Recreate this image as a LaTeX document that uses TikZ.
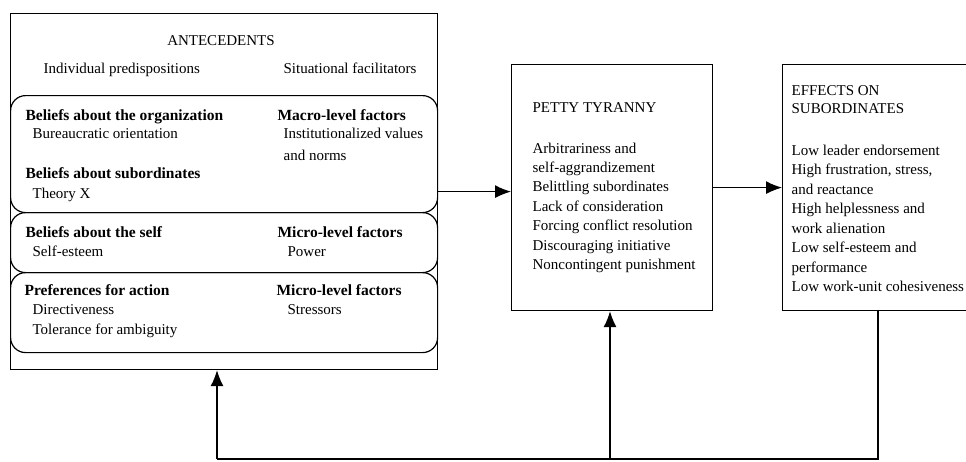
\documentclass[tikz,border=0pt]{standalone}
\usepackage{fontspec}
\setmainfont{Liberation Serif}
\usetikzlibrary{arrows.meta}

\begin{document}
\begin{tikzpicture}[x=1pt, y=-1pt, line width=1.2pt,
    txt/.style={anchor=base west, inner sep=0pt, font=\fontsize{15}{18}\selectfont},
    hd/.style={txt, font=\fontsize{15.5}{18}\selectfont\bfseries},
    box/.style={draw, anchor=north west, inner sep=0pt},
    grp/.style={draw, rounded corners=15pt, anchor=north west, inner sep=0pt, minimum width=427pt},
    arr/.style={-{Latex[length=16pt,width=13pt]}}]
    \clip (0,0) rectangle (966,461);

    % boxes
    \node[box, minimum width=427pt, minimum height=356pt] (ante) at (10,13) {};
    \node[grp, minimum height=117pt] (grp1) at (10,95) {};
    \node[grp, minimum height=60pt] (grp2) at (10,212) {};
    \node[grp, minimum height=80pt] (grp3) at (10,272) {};
    \node[box, minimum width=201pt, minimum height=246pt] (petty) at (511,64) {};
    \node[box, minimum width=220pt, minimum height=246pt] (effects) at (782,64) {};

    % antecedents
    \node[txt, anchor=base] (antehead) at (221,45) {ANTECEDENTS};
    \node[txt] (indiv) at (43,73) {Individual predispositions};
    \node[txt] (situ) at (283,73) {Situational facilitators};
    \node[hd] (borg) at (25,120) {Beliefs about the organization};
    \node[txt] (bureau) at (32,138) {Bureaucratic orientation};
    \node[hd] (bsub) at (25,178) {Beliefs about subordinates};
    \node[txt] (theory) at (32,198) {Theory X};
    \node[hd] (macro) at (277,120) {Macro-level factors};
    \node[txt] (inst) at (283,138) {Institutionalized values};
    \node[txt] (norms) at (283,160) {and norms};
    \node[hd] (bself) at (25,237) {Beliefs about the self};
    \node[txt] (esteem) at (32,256) {Self-esteem};
    \node[hd] (microa) at (277,237) {Micro-level factors};
    \node[txt] (power) at (287,256) {Power};
    \node[hd] (pref) at (24,295) {Preferences for action};
    \node[txt] (direct) at (32,314) {Directiveness};
    \node[txt] (toler) at (32,334) {Tolerance for ambiguity};
    \node[hd] (microb) at (276,295) {Micro-level factors};
    \node[txt] (stress) at (287,314) {Stressors};

    % petty tyranny
    \node[txt] (pettyhead) at (532,112) {PETTY TYRANNY};
    \node[txt] (pt1) at (532,153) {Arbitrariness and};
    \node[txt] (pt2) at (532,172.4) {self-aggrandizement};
    \node[txt] (pt3) at (532,191.8) {Belittling subordinates};
    \node[txt] (pt4) at (532,211.2) {Lack of consideration};
    \node[txt] (pt5) at (532,230.6) {Forcing conflict resolution};
    \node[txt] (pt6) at (532,250) {Discouraging initiative};
    \node[txt] (pt7) at (532,269.4) {Noncontingent punishment};

    % effects
    \node[txt] (effhead) at (791,95) {EFFECTS ON};
    \node[txt] (effhead2) at (791,113) {SUBORDINATES};
    \node[txt] (ef1) at (791,155) {Low leader endorsement};
    \node[txt] (ef2) at (791,174.5) {High frustration, stress,};
    \node[txt] (ef3) at (791,194) {and reactance};
    \node[txt] (ef4) at (791,213.5) {High helplessness and};
    \node[txt] (ef5) at (791,233) {work alienation};
    \node[txt] (ef6) at (791,252.5) {Low self-esteem and};
    \node[txt] (ef7) at (791,272) {performance};
    \node[txt] (ef8) at (791,291.5) {Low work-unit cohesiveness};

    % arrows
    \draw[arr] (ante.east) -- (ante.east -| petty.west);
    \draw[arr] (petty.east) -- (petty.east -| effects.west);
    \coordinate (fbR) at (878,459);
    \coordinate (fbM) at (610,459);
    \coordinate (fbL) at (217,459);
    \draw (effects.south -| fbR) -- (fbR) -- (fbL);
    \draw[arr] (fbL) -- (ante.south -| fbL);
    \draw[arr] (fbM) -- (petty.south -| fbM);
\end{tikzpicture}
\end{document}
